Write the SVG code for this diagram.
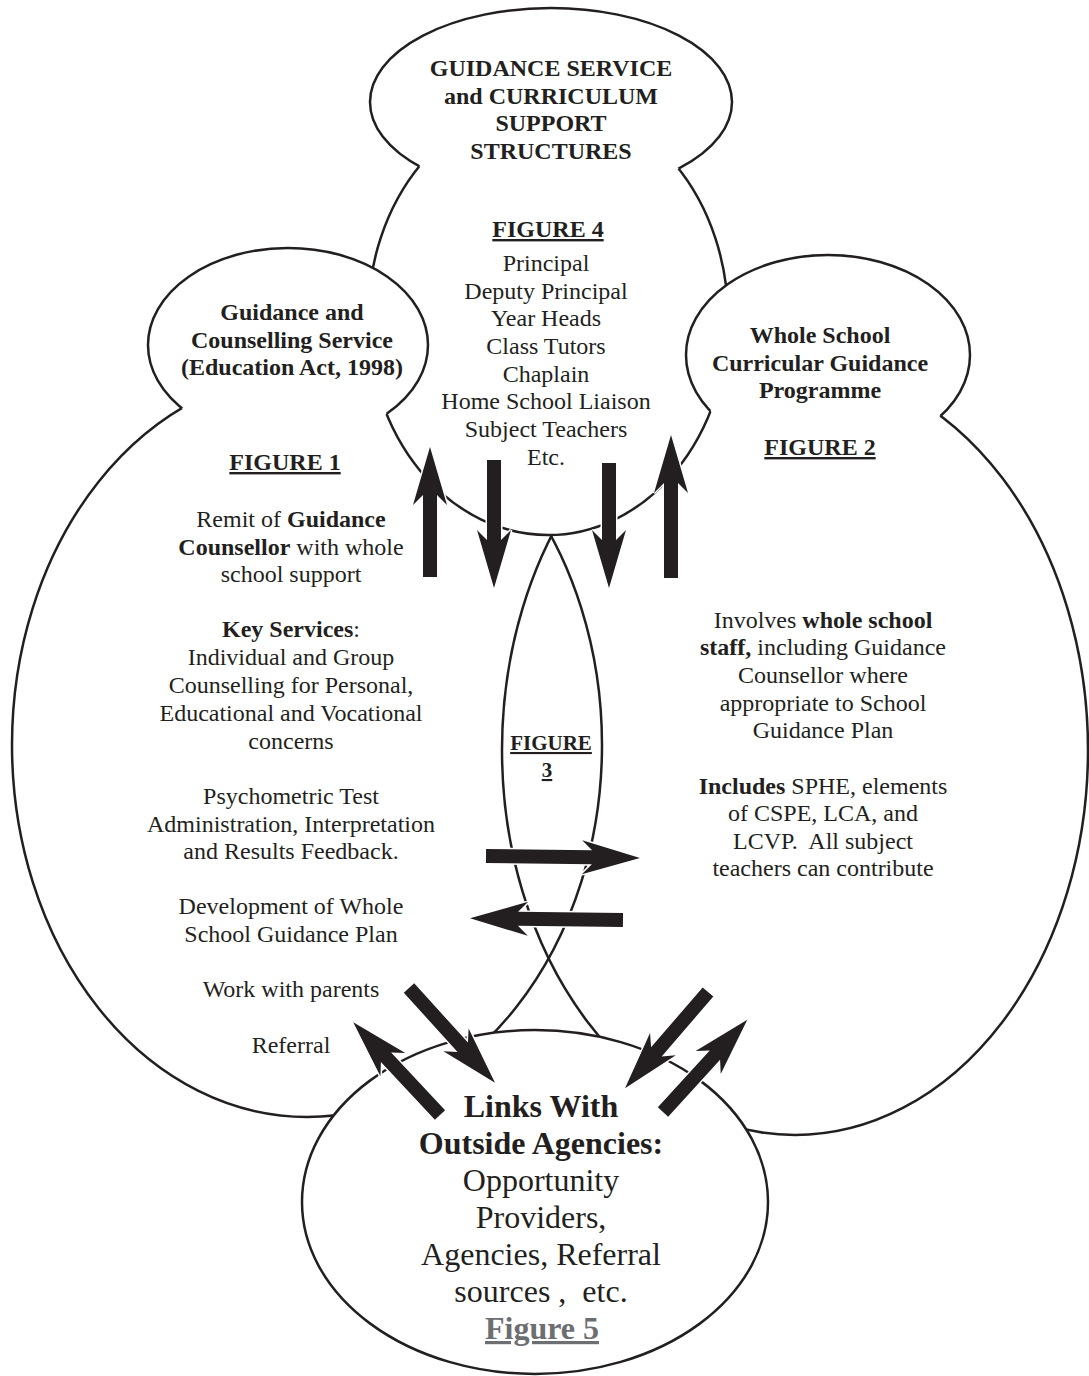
<svg xmlns="http://www.w3.org/2000/svg" xmlns:xlink="http://www.w3.org/1999/xlink" width="1089" height="1376" viewBox="0 0 1089 1376">
<style>
.ln{fill:none;stroke:#231f20;stroke-width:2.5}
.t{font-family:"Liberation Serif","Times New Roman",serif;font-size:24px;fill:#231f20;text-anchor:middle}
.b{font-weight:bold}
.u{text-decoration:underline}
.big{font-size:32px}
.arr{fill:#231f20;stroke:#fff;stroke-width:3;paint-order:stroke}
</style>
<defs>
<ellipse id="eTop" cx="551" cy="102" rx="181" ry="94"/>
<ellipse id="eMid" cx="548" cy="318" rx="180" ry="217"/>
<ellipse id="eSL" cx="288" cy="345" rx="140" ry="97"/>
<ellipse id="eSR" cx="828" cy="355" rx="142" ry="100"/>
<ellipse id="eBL" cx="307" cy="745" rx="295" ry="372"/>
<ellipse id="eBR" cx="795" cy="750" rx="293" ry="385"/>
<ellipse id="eBot" cx="535" cy="1202" rx="233" ry="172"/>
<mask id="mTop" maskUnits="userSpaceOnUse" x="0" y="0" width="1089" height="1376">
<rect width="1089" height="1376" fill="#fff"/><use xlink:href="#eMid" fill="#000"/>
</mask>
<mask id="mMid" maskUnits="userSpaceOnUse" x="0" y="0" width="1089" height="1376">
<rect width="1089" height="1376" fill="#fff"/><use xlink:href="#eTop" fill="#000"/><use xlink:href="#eSL" fill="#000"/><use xlink:href="#eSR" fill="#000"/>
</mask>
<mask id="mSL" maskUnits="userSpaceOnUse" x="0" y="0" width="1089" height="1376">
<rect width="1089" height="1376" fill="#fff"/><use xlink:href="#eBL" fill="#000"/><use xlink:href="#eMid" fill="#fff"/>
</mask>
<mask id="mSR" maskUnits="userSpaceOnUse" x="0" y="0" width="1089" height="1376">
<rect width="1089" height="1376" fill="#fff"/><use xlink:href="#eBR" fill="#000"/><use xlink:href="#eMid" fill="#fff"/>
</mask>
<mask id="mBL" maskUnits="userSpaceOnUse" x="0" y="0" width="1089" height="1376">
<rect width="1089" height="1376" fill="#fff"/><use xlink:href="#eMid" fill="#000"/><use xlink:href="#eSL" fill="#000"/><use xlink:href="#eBot" fill="#000"/>
</mask>
<mask id="mBR" maskUnits="userSpaceOnUse" x="0" y="0" width="1089" height="1376">
<rect width="1089" height="1376" fill="#fff"/><use xlink:href="#eMid" fill="#000"/><use xlink:href="#eSR" fill="#000"/><use xlink:href="#eBot" fill="#000"/>
</mask>
</defs>
<rect width="1089" height="1376" fill="#fff"/>

<g id="figure1-guidance-counselling">
<use xlink:href="#eBL" class="ln" mask="url(#mBL)"/>
<use xlink:href="#eSL" class="ln" mask="url(#mSL)"/>
<text class="t b" x="292" y="320">Guidance and</text>
<text class="t b" x="292" y="348">Counselling Service</text>
<text class="t b" x="292" y="375">(Education Act, 1998)</text>
<text class="t b u" x="285" y="470">FIGURE 1</text>
<text class="t" x="291" y="527">Remit of <tspan class="b">Guidance</tspan></text>
<text class="t" x="291" y="555"><tspan class="b">Counsellor</tspan> with whole</text>
<text class="t" x="291" y="582">school support</text>
<text class="t" x="291" y="637"><tspan class="b">Key Services</tspan>:</text>
<text class="t" x="291" y="665">Individual and Group</text>
<text class="t" x="291" y="693">Counselling for Personal,</text>
<text class="t" x="291" y="721">Educational and Vocational</text>
<text class="t" x="291" y="749">concerns</text>
<text class="t" x="291" y="804">Psychometric Test</text>
<text class="t" x="291" y="832">Administration, Interpretation</text>
<text class="t" x="291" y="859">and Results Feedback.</text>
<text class="t" x="291" y="914">Development of Whole</text>
<text class="t" x="291" y="942">School Guidance Plan</text>
<text class="t" x="291" y="997">Work with parents</text>
<text class="t" x="291" y="1053">Referral</text>
</g>

<g id="figure2-whole-school">
<use xlink:href="#eBR" class="ln" mask="url(#mBR)"/>
<use xlink:href="#eSR" class="ln" mask="url(#mSR)"/>
<text class="t b" x="820" y="343">Whole School</text>
<text class="t b" x="820" y="371">Curricular Guidance</text>
<text class="t b" x="820" y="398">Programme</text>
<text class="t b u" x="820" y="455">FIGURE 2</text>
<text class="t" x="823" y="628">Involves <tspan class="b">whole school</tspan></text>
<text class="t" x="823" y="655"><tspan class="b">staff,</tspan> including Guidance</text>
<text class="t" x="823" y="683">Counsellor where</text>
<text class="t" x="823" y="711">appropriate to School</text>
<text class="t" x="823" y="738">Guidance Plan</text>
<text class="t" x="823" y="794"><tspan class="b">Includes</tspan> SPHE, elements</text>
<text class="t" x="823" y="821">of CSPE, LCA, and</text>
<text class="t" x="823" y="849" xml:space="preserve" style="white-space:pre">LCVP.  All subject</text>
<text class="t" x="823" y="876">teachers can contribute</text>
</g>

<g id="figure3-overlap">
<text class="t b u" x="551" y="750" style="font-size:21px">FIGURE</text>
<text class="t b u" x="547" y="777" style="font-size:21px">3</text>
</g>

<g id="figure4-support-structures">
<use xlink:href="#eMid" class="ln" mask="url(#mMid)"/>
<use xlink:href="#eTop" class="ln" mask="url(#mTop)"/>
<text class="t b" x="551" y="76">GUIDANCE SERVICE</text>
<text class="t b" x="551" y="104">and CURRICULUM</text>
<text class="t b" x="551" y="131">SUPPORT</text>
<text class="t b" x="551" y="159">STRUCTURES</text>
<text class="t b u" x="548" y="237">FIGURE 4</text>
<text class="t" x="546" y="271">Principal</text>
<text class="t" x="546" y="299">Deputy Principal</text>
<text class="t" x="546" y="326">Year Heads</text>
<text class="t" x="546" y="354">Class Tutors</text>
<text class="t" x="546" y="382">Chaplain</text>
<text class="t" x="546" y="409">Home School Liaison</text>
<text class="t" x="546" y="437">Subject Teachers</text>
<text class="t" x="546" y="465">Etc.</text>
</g>

<g id="figure5-outside-agencies">
<use xlink:href="#eBot" class="ln" fill="#fff"/>
<text class="t b big" x="541" y="1117">Links With</text>
<text class="t b big" x="541" y="1154">Outside Agencies:</text>
<text class="t big" x="541" y="1191">Opportunity</text>
<text class="t big" x="541" y="1228">Providers,</text>
<text class="t big" x="541" y="1265">Agencies, Referral</text>
<text class="t big" x="541" y="1302" xml:space="preserve" style="white-space:pre">sources ,  etc.</text>
<text class="t b big u" x="542" y="1339" style="fill:#6d6e71">Figure 5</text>
</g>

<g id="connectors">
<path class="arr" transform="translate(430,577) rotate(-90)" d="M0,-7 L82,-7 L72,-17 L130,0 L72,17 L82,7 L0,7 Z"/>
<path class="arr" transform="translate(494,460) rotate(90)" d="M0,-7 L80,-7 L70,-17 L128,0 L70,17 L80,7 L0,7 Z"/>
<path class="arr" transform="translate(609,463) rotate(90)" d="M0,-7 L77,-7 L67,-17 L125,0 L67,17 L77,7 L0,7 Z"/>
<path class="arr" transform="translate(671,578) rotate(-90)" d="M0,-7 L95,-7 L85,-17 L143,0 L85,17 L95,7 L0,7 Z"/>
<path class="arr" transform="translate(486,856) rotate(0.7)" d="M0,-7 L106,-7 L96,-17 L154,0 L96,17 L106,7 L0,7 Z"/>
<path class="arr" transform="translate(623,920) rotate(180.7)" d="M0,-7 L105,-7 L95,-17 L153,0 L95,17 L105,7 L0,7 Z"/>
<path class="arr" transform="translate(409,988) rotate(47.8)" d="M0,-7 L80,-7 L70,-17 L128,0 L70,17 L80,7 L0,7 Z"/>
<path class="arr" transform="translate(440,1115) rotate(-133.1)" d="M0,-7 L79,-7 L69,-17 L127,0 L69,17 L79,7 L0,7 Z"/>
<path class="arr" transform="translate(708,992) rotate(130.8)" d="M0,-7 L79,-7 L69,-17 L127,0 L69,17 L79,7 L0,7 Z"/>
<path class="arr" transform="translate(663,1112) rotate(-47.6)" d="M0,-7 L77,-7 L67,-17 L125,0 L67,17 L77,7 L0,7 Z"/>
</g>
</svg>
